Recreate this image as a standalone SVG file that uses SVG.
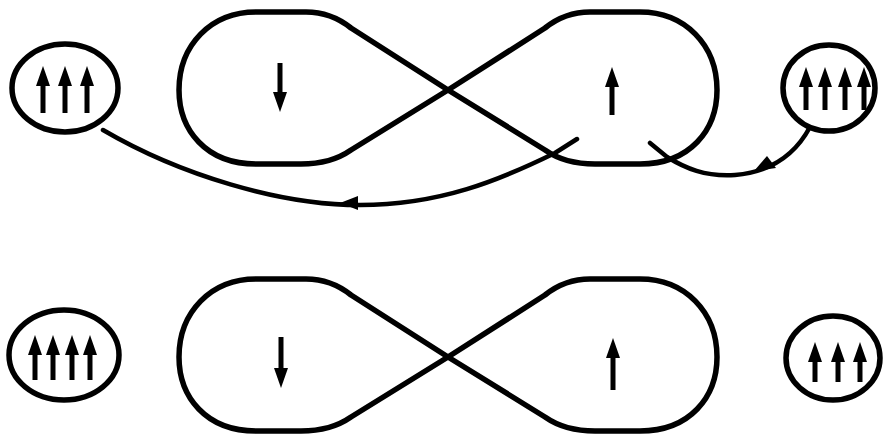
<svg xmlns="http://www.w3.org/2000/svg" width="886" height="437" viewBox="0 0 886 437">
<style>
.loop{fill:none;stroke:#000;stroke-width:5.5;stroke-linejoin:round}
.res{fill:#fff;stroke:#000;stroke-width:5.5}
.sp{stroke:#000;stroke-width:5;marker-end:url(#head)}
.con{fill:none;stroke:#000;stroke-width:4.5;stroke-linecap:round}
.ah{fill:#000}
</style>
<defs>
<marker id="head" markerUnits="userSpaceOnUse" viewBox="0 0 20 14" refX="0" refY="7" markerWidth="20" markerHeight="14" orient="auto">
<path d="M0,0 L20,7 L0,14 z" fill="#000"/>
</marker>
</defs>
<rect width="886" height="437" fill="#fff"/>
<g id="connectors">
<path class="con" d="M103,130 C180,175 280,205 360,205 C440,205 500,180 555,153 L577,139"/>
<polygon class="ah" points="340,203 358,196 358,210"/>
<path class="con" d="M810,127 C795,155 770,172 735,175 C705,177 685,168 667,157 L650,143"/>
<polygon class="ah" points="754,171 767,156 776,168"/>
</g>
<g id="res-top-left">
<ellipse class="res" cx="65" cy="88" rx="53" ry="44"/>
<line class="sp" x1="43" y1="113" x2="43" y2="86"/>
<line class="sp" x1="65" y1="113" x2="65" y2="86"/>
<line class="sp" x1="87" y1="113" x2="87" y2="86"/>
</g>
<g id="res-top-right">
<ellipse class="res" cx="829" cy="88" rx="46" ry="43"/>
<line class="sp" x1="806" y1="110" x2="806" y2="87"/>
<line class="sp" x1="825" y1="110" x2="825" y2="87"/>
<line class="sp" x1="845" y1="110" x2="845" y2="87"/>
<line class="sp" x1="864" y1="110" x2="864" y2="87"/>
</g>
<g id="dot-top">
<path class="loop" d="M448,90 L545,150 Q565,164 595,164 L640,164 C690,164 717,130 717,90 C717,45 685,12 640,12 L590,12 Q565,12 545,28 Z"/>
<path class="loop" d="M448,90 L351,150 Q331,164 301,164 L256,164 C206,164 179,130 179,90 C179,45 211,12 256,12 L306,12 Q331,12 351,28 Z"/>
<line class="sp" x1="280" y1="63" x2="280" y2="92"/>
<line class="sp" x1="612" y1="115" x2="612" y2="87"/>
</g>
<g id="res-bottom-left">
<ellipse class="res" cx="64" cy="355" rx="55" ry="45"/>
<line class="sp" x1="35" y1="380" x2="35" y2="355"/>
<line class="sp" x1="53" y1="380" x2="53" y2="355"/>
<line class="sp" x1="72" y1="380" x2="72" y2="355"/>
<line class="sp" x1="90" y1="380" x2="90" y2="355"/>
</g>
<g id="res-bottom-right">
<ellipse class="res" cx="833" cy="358" rx="47" ry="42"/>
<line class="sp" x1="815" y1="382" x2="815" y2="362"/>
<line class="sp" x1="838" y1="382" x2="838" y2="362"/>
<line class="sp" x1="860" y1="382" x2="860" y2="362"/>
</g>
<g id="dot-bottom">
<path class="loop" d="M448,357 L545,417 Q565,431 595,431 L640,431 C690,431 717,397 717,357 C717,312 685,279 640,279 L590,279 Q565,279 545,295 Z"/>
<path class="loop" d="M448,357 L351,417 Q331,431 301,431 L256,431 C206,431 179,397 179,357 C179,312 211,279 256,279 L306,279 Q331,279 351,295 Z"/>
<line class="sp" x1="281" y1="337" x2="281" y2="368"/>
<line class="sp" x1="613" y1="390" x2="613" y2="358"/>
</g>
</svg>
